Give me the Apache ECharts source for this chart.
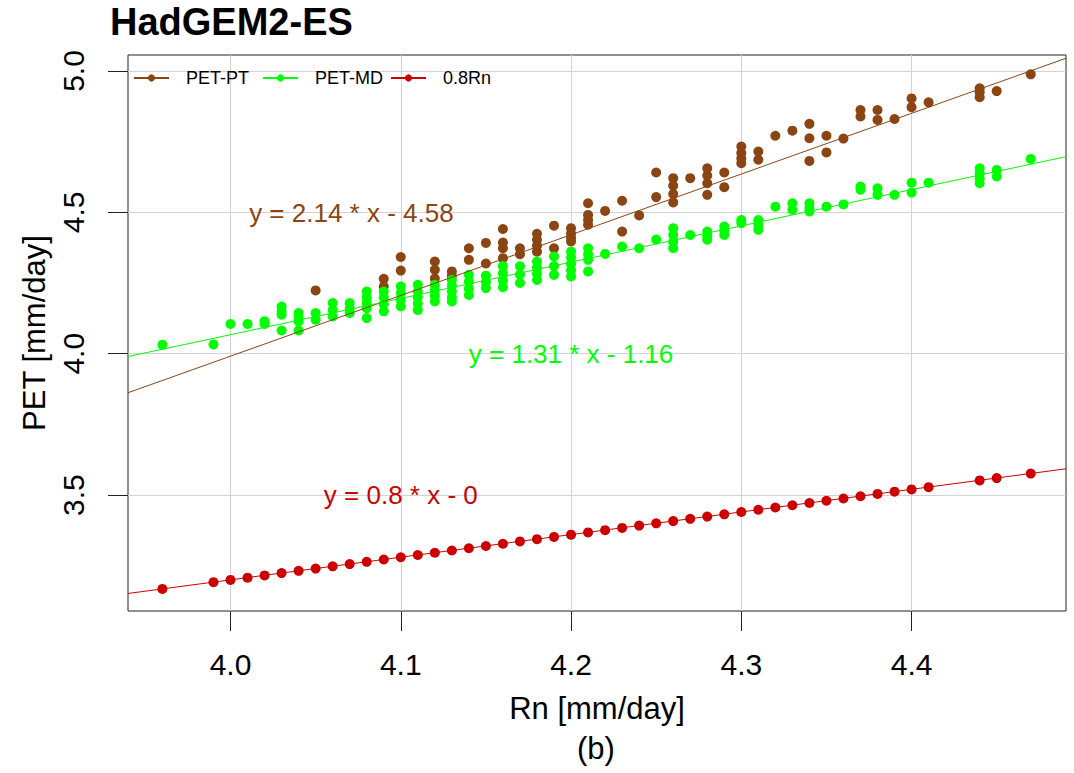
<!DOCTYPE html>
<html>
<head>
<meta charset="utf-8">
<script src="https://cdn.jsdelivr.net/npm/echarts@6/dist/echarts.min.js"></script>
<style>
html,body{margin:0;padding:0;background:#fff;}
#chart{width:1074px;height:773px;}
</style>
</head>
<body>
<div id="chart"></div>
<script>
// ---- data ----
const chartTitle = 'HadGEM2-ES';
const seriesNames = ['PET-PT', 'PET-MD', '0.8Rn'];
const xTicks = [4.0, 4.1, 4.2, 4.3, 4.4];
const yTicks = [3.5, 4.0, 4.5, 5.0];
const xRange = [3.9398, 4.4907];
const yRange = [3.090, 5.0565];

// PET-PT (Priestley-Taylor) points [Rn, PET]
const ptPoints = [
  [4.05,4.224],
  [4.09,4.265],[4.09,4.238],
  [4.10,4.342],[4.10,4.294],
  [4.12,4.326],[4.12,4.297],[4.12,4.266],
  [4.13,4.291],[4.13,4.275],
  [4.14,4.373],[4.14,4.332],
  [4.15,4.392],[4.15,4.319],
  [4.16,4.441],[4.16,4.393],[4.16,4.373],[4.16,4.338],
  [4.17,4.373],[4.17,4.352],
  [4.18,4.424],[4.18,4.403],[4.18,4.382],[4.18,4.361],
  [4.19,4.453],[4.19,4.373],
  [4.20,4.444],[4.20,4.425],[4.20,4.410],[4.20,4.397],
  [4.21,4.532],[4.21,4.491],[4.21,4.473],[4.21,4.456],
  [4.22,4.505],
  [4.23,4.541],[4.23,4.432],
  [4.24,4.489],
  [4.25,4.641],[4.25,4.554],
  [4.26,4.621],[4.26,4.594],[4.26,4.565],[4.26,4.535],
  [4.27,4.621],
  [4.28,4.656],[4.28,4.630],[4.28,4.603],[4.28,4.562],
  [4.29,4.641],[4.29,4.589],
  [4.30,4.733],[4.30,4.710],[4.30,4.690],[4.30,4.674],
  [4.31,4.715],[4.31,4.686],
  [4.32,4.771],
  [4.33,4.789],
  [4.34,4.813],[4.34,4.762],[4.34,4.682],
  [4.35,4.771],[4.35,4.712],
  [4.36,4.761],
  [4.37,4.862],[4.37,4.839],
  [4.38,4.862],[4.38,4.827],
  [4.39,4.830],
  [4.40,4.903],[4.40,4.872],
  [4.41,4.889],
  [4.44,4.939],[4.44,4.925],[4.44,4.907],
  [4.45,4.929],
  [4.47,4.988]
];

// PET-MD points [Rn, PET]
const mdPoints = [
  [3.96,4.032],
  [3.99,4.033],
  [4.00,4.105],
  [4.01,4.105],
  [4.02,4.115],[4.02,4.105],
  [4.03,4.167],[4.03,4.150],[4.03,4.138],[4.03,4.082],
  [4.04,4.144],[4.04,4.128],[4.04,4.114],[4.04,4.082],
  [4.05,4.144],[4.05,4.120],
  [4.06,4.179],[4.06,4.155],[4.06,4.132],
  [4.07,4.179],[4.07,4.160],[4.07,4.144],
  [4.08,4.220],[4.08,4.200],[4.08,4.180],[4.08,4.161],[4.08,4.126],
  [4.09,4.220],[4.09,4.200],[4.09,4.175],[4.09,4.150],
  [4.10,4.238],[4.10,4.215],[4.10,4.190],[4.10,4.167],
  [4.11,4.244],[4.11,4.220],[4.11,4.200],[4.11,4.178],[4.11,4.155],
  [4.12,4.244],[4.12,4.225],[4.12,4.205],[4.12,4.185],
  [4.13,4.261],[4.13,4.240],[4.13,4.220],[4.13,4.200],[4.13,4.185],
  [4.14,4.279],[4.14,4.255],[4.14,4.230],[4.14,4.208],
  [4.15,4.276],[4.15,4.254],[4.15,4.232],
  [4.16,4.310],[4.16,4.285],[4.16,4.260],[4.16,4.235],
  [4.17,4.309],[4.17,4.280],[4.17,4.250],
  [4.18,4.326],[4.18,4.305],[4.18,4.283],[4.18,4.261],
  [4.19,4.344],[4.19,4.310],[4.19,4.279],
  [4.20,4.361],[4.20,4.340],[4.20,4.318],[4.20,4.295],[4.20,4.273],
  [4.21,4.373],[4.21,4.352],[4.21,4.332],[4.21,4.291],
  [4.22,4.353],
  [4.23,4.379],
  [4.24,4.373],
  [4.25,4.404],
  [4.26,4.444],[4.26,4.420],[4.26,4.396],[4.26,4.373],
  [4.27,4.420],
  [4.28,4.432],[4.28,4.415],[4.28,4.403],
  [4.29,4.450],[4.29,4.435],[4.29,4.420],
  [4.30,4.473],[4.30,4.462],
  [4.31,4.473],[4.31,4.455],[4.31,4.438],
  [4.32,4.520],
  [4.33,4.532],[4.33,4.509],
  [4.34,4.532],[4.34,4.515],[4.34,4.503],
  [4.35,4.520],
  [4.36,4.528],
  [4.37,4.591],[4.37,4.580],
  [4.38,4.585],[4.38,4.562],
  [4.39,4.562],
  [4.40,4.605],[4.40,4.570],
  [4.41,4.605],
  [4.44,4.656],[4.44,4.638],[4.44,4.620],[4.44,4.603],
  [4.45,4.650],[4.45,4.627],
  [4.47,4.689]
];

// 0.8Rn points [Rn, 0.8Rn]
const rnPoints = [
  [3.96,3.168],[3.99,3.192],[4.00,3.200],[4.01,3.208],[4.02,3.216],
  [4.03,3.224],[4.04,3.232],[4.05,3.240],[4.06,3.248],[4.07,3.256],
  [4.08,3.264],[4.09,3.272],[4.10,3.280],[4.11,3.288],[4.12,3.296],
  [4.13,3.304],[4.14,3.312],[4.15,3.320],[4.16,3.328],[4.17,3.336],
  [4.18,3.344],[4.19,3.352],[4.20,3.360],[4.21,3.368],[4.22,3.376],
  [4.23,3.384],[4.24,3.392],[4.25,3.400],[4.26,3.408],[4.27,3.416],
  [4.28,3.424],[4.29,3.432],[4.30,3.440],[4.31,3.448],[4.32,3.456],
  [4.33,3.464],[4.34,3.472],[4.35,3.480],[4.36,3.488],[4.37,3.496],
  [4.38,3.504],[4.39,3.512],[4.40,3.520],[4.41,3.528],[4.44,3.552],
  [4.45,3.560],[4.47,3.576]
];

// fitted lines (end points at the plot edges)
const ptFit = [[3.9398,3.862],[4.4907,5.045]];
const mdFit = [[3.9398,3.990],[4.4907,4.697]];
const rnFit = [[3.9398,3.152],[4.4907,3.593]];

// equation labels [x, y, text]
const ptEq = [4.071, 4.497, 'y = 2.14 * x - 4.58'];
const mdEq = [4.200, 4.000, 'y = 1.31 * x - 1.16'];
const rnEq = [4.100, 3.500, 'y = 0.8 * x - 0'];

const colors = ['#8B4513', '#00FF00', '#CD0000'];
const FONT = '"Liberation Sans", Arial, sans-serif';

const chart = echarts.init(document.getElementById('chart'), null, {renderer: 'svg'});

function fitSeries(name, data, color) {
  return {
    name: name, type: 'line', data: data, showSymbol: false, symbol: 'circle',
    lineStyle: {color: color, width: 1}, itemStyle: {color: color},
    silent: true, animation: false, z: 3
  };
}
function pointSeries(name, data, color) {
  return {
    name: name, type: 'scatter', data: data, symbol: 'circle', symbolSize: 10,
    itemStyle: {color: color, opacity: 1}, silent: true, animation: false, z: 2
  };
}
function eqSeries(eq, color) {
  return {
    type: 'scatter', data: [[eq[0], eq[1]]], symbolSize: 1,
    itemStyle: {color: 'rgba(0,0,0,0)'}, silent: true, animation: false, z: 4,
    label: {show: true, position: 'inside', formatter: eq[2], color: color, opacity: 1,
            textBorderWidth: 0, textBorderColor: 'transparent',
            fontSize: 26, fontFamily: FONT}
  };
}
function legendAt(name, left) {
  return {
    data: [name], left: left, top: 69, padding: 0, itemWidth: 35, itemHeight: 9,
    selectedMode: false,
    textStyle: {fontSize: 18, fontFamily: FONT, color: '#000', padding: [0, 0, 0, 12]}
  };
}

chart.setOption({
  animation: false,
  title: {
    text: chartTitle, left: 110, top: 3, padding: 0,
    textStyle: {fontSize: 38, fontWeight: 'bold', fontFamily: FONT, color: '#000'}
  },
  legend: [
    legendAt(seriesNames[0], 133),
    legendAt(seriesNames[1], 262),
    legendAt(seriesNames[2], 390)
  ],
  grid: {left: 128, right: 8, top: 55, bottom: 162, show: true,
         borderColor: '#222', borderWidth: 1, backgroundColor: 'transparent'},
  xAxis: {
    type: 'value', min: xRange[0], max: xRange[1],
    name: 'Rn [mm/day]', nameLocation: 'middle', nameGap: 82,
    nameTextStyle: {fontSize: 31, fontFamily: FONT, color: '#000'},
    axisLine: {show: false},
    axisTick: {show: true, length: 20, customValues: xTicks, lineStyle: {color: '#222'}},
    axisLabel: {customValues: xTicks, fontSize: 30, fontFamily: FONT, color: '#000', margin: 38,
                formatter: v => v.toFixed(1)},
    splitLine: {show: true, lineStyle: {color: '#D3D3D3', width: 1}}
  },
  yAxis: {
    type: 'value', min: yRange[0], max: yRange[1],
    name: 'PET [mm/day]', nameLocation: 'middle', nameGap: 72, nameRotate: 90,
    nameTextStyle: {fontSize: 31, fontFamily: FONT, color: '#000'},
    axisLine: {show: false},
    axisTick: {show: true, length: 20, customValues: yTicks, lineStyle: {color: '#222'}},
    axisLabel: {customValues: yTicks, rotate: 90, fontSize: 30, fontFamily: FONT, color: '#000', margin: 40,
                formatter: v => v.toFixed(1)},
    splitLine: {show: true, lineStyle: {color: '#D3D3D3', width: 1}}
  },
  series: [
    fitSeries(seriesNames[0], ptFit, colors[0]),
    fitSeries(seriesNames[1], mdFit, colors[1]),
    fitSeries(seriesNames[2], rnFit, colors[2]),
    pointSeries(seriesNames[0], ptPoints, colors[0]),
    pointSeries(seriesNames[1], mdPoints, colors[1]),
    pointSeries(seriesNames[2], rnPoints, colors[2]),
    eqSeries(ptEq, colors[0]),
    eqSeries(mdEq, colors[1]),
    eqSeries(rnEq, colors[2])
  ],
  graphic: [{
    type: 'text', left: 597 - 20, top: 733,
    style: {text: '(b)', fontSize: 31, fontFamily: FONT, fill: '#000'}
  }]
});
</script>
</body>
</html>
